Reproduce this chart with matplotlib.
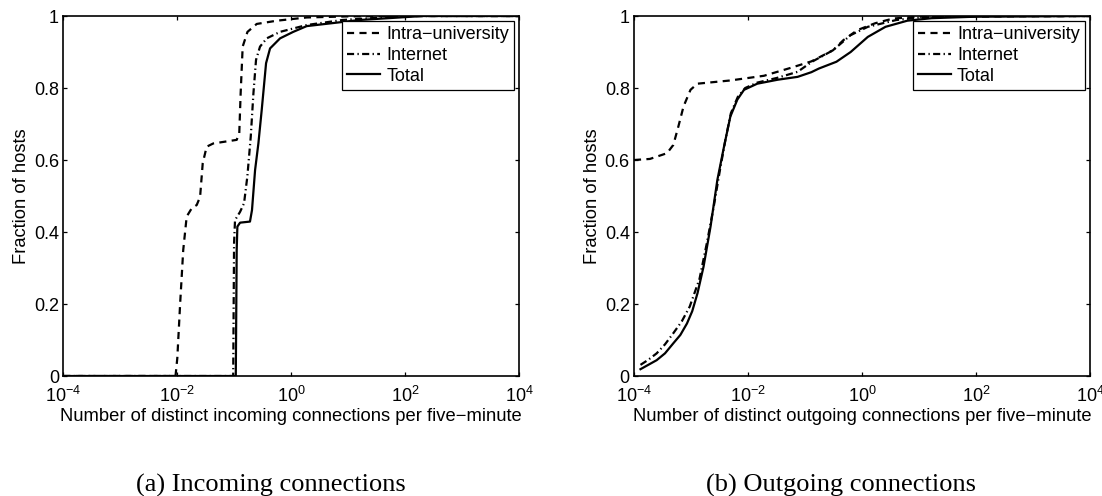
import matplotlib; matplotlib.use("Agg")
import matplotlib.pyplot as plt
from matplotlib.ticker import FixedLocator, NullLocator, FuncFormatter
import numpy as np

plt.rcParams["font.family"] = ["Liberation Sans", "DejaVu Sans"]
plt.rcParams["mathtext.fontset"] = "custom"
plt.rcParams["mathtext.rm"] = "Liberation Sans"
plt.rcParams["mathtext.default"] = "regular"

# (a) incoming connections, x = connections per five-minute, y = fraction of hosts
IN_INTRA_X = [1e-4, 0.0093, 0.0100, 0.0112, 0.0127, 0.0146, 0.0179, 0.0219, 0.0251, 0.0279, 0.0327,
              0.0427, 0.110, 0.122, 0.129, 0.140, 0.170, 0.247, 0.555, 1.86, 10, 100, 1e4]
IN_INTRA_Y = [0.0, 0.0, 0.05, 0.2, 0.35, 0.443, 0.466, 0.475, 0.498, 0.591, 0.637,
              0.646, 0.656, 0.674, 0.785, 0.915, 0.956, 0.978, 0.987, 0.996, 0.999, 1.0, 1.0]
IN_NET_X = [1e-4, 0.0955, 0.0989, 0.1028, 0.126, 0.148, 0.169, 0.194, 0.216, 0.240, 0.282, 0.370,
            0.634, 1.86, 7.9, 100, 1e4]
IN_NET_Y = [0.0, 0.0, 0.369, 0.433, 0.456, 0.48, 0.554, 0.665, 0.785, 0.878, 0.915, 0.938,
            0.956, 0.975, 0.989, 1.0, 1.0]
IN_TOT_X = [1e-4, 0.106, 0.110, 0.113, 0.126, 0.188, 0.204, 0.231, 0.264, 0.302, 0.360, 0.423,
            0.634, 1.08, 1.86, 15.8, 200, 1e4]
IN_TOT_Y = [0.0, 0.0, 0.35, 0.415, 0.426, 0.429, 0.461, 0.572, 0.646, 0.739, 0.869, 0.91,
            0.938, 0.956, 0.972, 0.989, 1.0, 1.0]

# (b) outgoing connections
OUT_INTRA_X = [1e-4, 1.9e-4, 3.8e-4, 4.9e-4, 6.0e-4, 7.4e-4, 9.8e-4, 1.29e-3, 4.9e-3, 0.019,
               0.056, 0.129, 0.31, 0.47, 0.83, 1.7, 3.5, 9.3, 1e4]
OUT_INTRA_Y = [0.60, 0.603, 0.619, 0.642, 0.693, 0.749, 0.795, 0.812, 0.821, 0.834,
               0.856, 0.874, 0.905, 0.933, 0.961, 0.98, 0.993, 0.998, 1.0]
OUT_NET_X = [1.3e-4, 1.78e-4, 2.5e-4, 3.5e-4, 4.9e-4, 6.9e-4, 9.5e-4, 1.41e-3, 1.9e-3, 2.5e-3,
             3.2e-3, 4.0e-3, 5.0e-3, 6.6e-3, 8.9e-3, 0.0145, 0.032, 0.074, 0.132, 0.31, 0.63, 1.26,
             4.0, 10.7, 100, 1e4]
OUT_NET_Y = [0.031, 0.045, 0.063, 0.088, 0.119, 0.152, 0.193, 0.27, 0.37, 0.47,
             0.57, 0.655, 0.73, 0.775, 0.80, 0.815, 0.828, 0.845, 0.873, 0.905, 0.947, 0.97,
             0.989, 0.996, 1.0, 1.0]
OUT_TOT_X = [1.3e-4, 1.78e-4, 2.5e-4, 3.5e-4, 4.9e-4, 6.5e-4, 8.5e-4, 1.05e-3, 1.3e-3, 1.66e-3,
             2.2e-3, 2.9e-3, 3.8e-3, 4.9e-3, 6.5e-3, 8.5e-3, 0.0145, 0.033, 0.074, 0.129, 0.174,
             0.355, 0.63, 1.26, 2.57, 6.2, 16.6, 91, 1e4]
OUT_TOT_Y = [0.019, 0.031, 0.044, 0.063, 0.091, 0.114, 0.146, 0.18, 0.23, 0.304,
             0.415, 0.545, 0.638, 0.721, 0.768, 0.795, 0.812, 0.823, 0.831, 0.844, 0.854,
             0.873, 0.90, 0.942, 0.970, 0.987, 0.994, 0.998, 1.0]

LABELS = ["Intra\u2212university", "Internet", "Total"]
XTICKS = [1e-4, 1e-2, 1e0, 1e2, 1e4]
YTICKS = [0, 0.2, 0.4, 0.6, 0.8, 1.0]
FS = 13; LFS = 13.2
DASH = (0, (3.2, 2.4)); DASHDOT = (0, (3.2, 1.5, 0.6, 1.5))

fig = plt.figure(figsize=(11.02, 4.96), dpi=100)
panels = [
    (0.0574, [(IN_INTRA_X, IN_INTRA_Y), (IN_NET_X, IN_NET_Y), (IN_TOT_X, IN_TOT_Y)],
     "Number of distinct incoming connections per five\u2212minute", "(a) Incoming connections", 0.2455),
    (0.5753, [(OUT_INTRA_X, OUT_INTRA_Y), (OUT_NET_X, OUT_NET_Y), (OUT_TOT_X, OUT_TOT_Y)],
     "Number of distinct outgoing connections per five\u2212minute", "(b) Outgoing connections", 0.7632),
]
for x0, series, xlab, cap, cx in panels:
    ax = fig.add_axes([x0, 0.2419, 0.4140, 0.7258])
    for (xs, ys), ls, lab in zip(series, [DASH, DASHDOT, "-"], LABELS):
        ax.plot(xs, ys, color="k", lw=1.6, ls=ls, label=lab)
    ax.set_xscale("log")
    ax.set_xlim(1e-4, 1e4); ax.set_ylim(0, 1)
    ax.xaxis.set_major_locator(FixedLocator(XTICKS)); ax.xaxis.set_minor_locator(NullLocator())
    ax.xaxis.set_major_formatter(FuncFormatter(lambda v, p: r"$10^{%d}$" % round(np.log10(v))))
    ax.yaxis.set_major_locator(FixedLocator(YTICKS))
    ax.yaxis.set_major_formatter(FuncFormatter(lambda v, p: "%g" % v))
    ax.tick_params(direction="in", length=3.2, width=0.9, top=True, right=True, labelsize=FS)
    ax.tick_params(axis="x", pad=7)
    ax.tick_params(axis="y", pad=3)
    for s in ax.spines.values(): s.set_linewidth(1.2)
    ax.set_xlabel(xlab, fontsize=LFS, labelpad=1.5)
    ax.set_ylabel("Fraction of hosts", fontsize=LFS, labelpad=3)
    leg = ax.legend(loc="upper right", fontsize=FS, fancybox=False, framealpha=1, edgecolor="k",
                    handlelength=1.8, handletextpad=0.35, labelspacing=0.2, borderpad=0.3,
                    borderaxespad=0.28)
    leg.get_frame().set_linewidth(0.9)
    fig.text(cx, 4.5 / 496, cap, ha="center", va="baseline", fontsize=19, family="Liberation Serif")

fig.savefig("out.png", dpi=100)
